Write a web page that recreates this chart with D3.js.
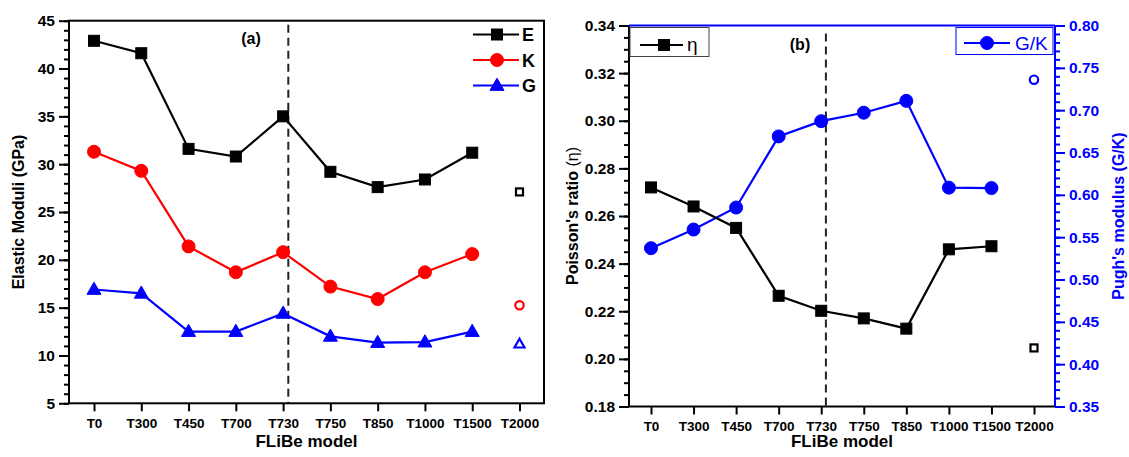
<!DOCTYPE html>
<html>
<head>
<meta charset="utf-8">
<title>FLiBe elastic moduli</title>
<script src="https://cdnjs.cloudflare.com/ajax/libs/d3/7.8.5/d3.min.js"></script>
<style>
  body { margin: 0; background: #fff; }
  svg { font-family: "Liberation Sans", Arial, sans-serif; }
</style>
</head>
<body>
<script>
// categories (T2000 is drawn as a separate open marker)
var models = ["T0", "T300", "T450", "T700", "T730", "T750", "T850", "T1000", "T1500", "T2000"];
var lineModels = models.slice(0, 9);

// panel (a) - GPa
var E = [42.9, 41.6, 31.6, 30.8, 35.0, 29.2, 27.6, 28.4, 31.2];
var K = [31.3, 29.3, 21.4, 18.7, 20.8, 17.2, 15.9, 18.7, 20.6];
var G = [16.9, 16.5, 12.5, 12.5, 14.4, 12.0, 11.35, 11.4, 12.5];
var E2000 = 27.1, K2000 = 15.25, G2000 = 11.2;

// panel (b)
var eta = [0.272, 0.264, 0.255, 0.2265, 0.2202, 0.217, 0.2127, 0.246, 0.2473];
var gk = [0.537, 0.559, 0.585, 0.669, 0.687, 0.697, 0.711, 0.6085, 0.608];
var eta2000 = 0.2046, gk2000 = 0.736;

var ticksA = [5, 10, 15, 20, 25, 30, 35, 40, 45];
var ticksEta = [0.18, 0.20, 0.22, 0.24, 0.26, 0.28, 0.30, 0.32, 0.34];
var ticksGK = [0.35, 0.40, 0.45, 0.50, 0.55, 0.60, 0.65, 0.70, 0.75, 0.80];

var svg = d3.select("body").append("svg").attr("width", 1129).attr("height", 457);

function minorVals(lo, hi, step) {
  var out = [];
  var n = Math.round((hi - lo) / step);
  for (var i = 0; i <= n; i++) out.push(lo + i * step);
  return out;
}

function drawYAxis(g, scale, side, x, majors, minors, color, fmt) {
  var ax = side == "left" ? d3.axisLeft(scale) : d3.axisRight(scale);
  var minor = g.append("g").attr("transform", "translate(" + x + ",0)")
    .call((side == "left" ? d3.axisLeft(scale) : d3.axisRight(scale))
      .tickValues(minors).tickSize(5).tickSizeOuter(0).tickFormat(""));
  var major = g.append("g").attr("transform", "translate(" + x + ",0)")
    .call(ax.tickValues(majors).tickSize(10).tickSizeOuter(0).tickFormat(fmt).tickPadding(4));
  [minor, major].forEach(function (s) {
    s.select(".domain").remove();
    s.selectAll("line").attr("stroke", color).attr("stroke-width", 2);
  });
  major.selectAll("text").attr("fill", color).attr("font-size", "15.5px").attr("font-weight", "bold");
}

function drawXAxis(g, scale, y) {
  var a = g.append("g").attr("transform", "translate(0," + y + ")")
    .call(d3.axisBottom(scale).tickSize(8).tickPadding(7));
  a.select(".domain").remove();
  a.selectAll("line").attr("stroke", "#000").attr("stroke-width", 2);
  a.selectAll("text").attr("fill", "#000").attr("font-size", "13.5px").attr("font-weight", "bold");
}

function square(g, x, y, s, open, color) {
  g.append("rect").attr("x", x - s / 2).attr("y", y - s / 2).attr("width", s).attr("height", s)
    .attr("fill", open ? "#fff" : color).attr("stroke", color).attr("stroke-width", open ? 2.2 : 1);
}
function circle(g, x, y, r, open, color) {
  g.append("circle").attr("cx", x).attr("cy", y).attr("r", r)
    .attr("fill", open ? "#fff" : color).attr("stroke", color).attr("stroke-width", open ? 2.2 : 1);
}
function triangle(g, x, y, s, open, color) {
  var h = s * 0.87;
  g.append("path")
    .attr("d", "M" + x + "," + (y - h * 0.6) + "L" + (x + s / 2) + "," + (y + h * 0.4) + "L" + (x - s / 2) + "," + (y + h * 0.4) + "Z")
    .attr("fill", open ? "#fff" : color).attr("stroke", color).attr("stroke-width", open ? 2.2 : 1);
}

function drawSeries(g, x, y, vals, color, marker, size) {
  var line = d3.line().x(function (d, i) { return x(lineModels[i]); }).y(function (d) { return y(d); });
  g.append("path").datum(vals).attr("d", line).attr("fill", "none").attr("stroke", color).attr("stroke-width", 2.2);
  vals.forEach(function (v, i) { marker(g, x(lineModels[i]), y(v), size, false, color); });
}

/* ---------------- panel (a) ---------------- */
var a = svg.append("g");
var ax0 = 69, ax1 = 544, ay0 = 20.7, ay1 = 403.3;
var xA = d3.scalePoint().domain(models).range([94, 519.5]);
var yA = d3.scaleLinear().domain([5, 45]).range([ay1, ay0]);

drawYAxis(a, yA, "left", ax0, ticksA, minorVals(5, 45, 1), "#000", d3.format("d"));
drawXAxis(a, xA, ay1);

var dashA = xA("T730") + 0.11 * xA.step();
a.append("line").attr("x1", dashA).attr("x2", dashA).attr("y1", ay0 + 4).attr("y2", ay1)
  .attr("stroke", "#222").attr("stroke-width", 2).attr("stroke-dasharray", "8,5");

drawSeries(a, xA, yA, E, "#000", square, 11);
drawSeries(a, xA, yA, K, "#ff0000", circle, 6.5);
drawSeries(a, xA, yA, G, "#0000ff", triangle, 14);
square(a, xA("T2000"), yA(E2000), 7, true, "#000");
circle(a, xA("T2000"), yA(K2000), 4.2, true, "#ff0000");
triangle(a, xA("T2000"), yA(G2000), 10, true, "#0000ff");

a.append("rect").attr("x", ax0).attr("y", ay0).attr("width", ax1 - ax0).attr("height", ay1 - ay0)
  .attr("fill", "none").attr("stroke", "#000").attr("stroke-width", 2);

// legend (a)
var legA = [["E", "#000", square, 11], ["K", "#ff0000", circle, 6.5], ["G", "#0000ff", triangle, 14]];
legA.forEach(function (d, i) {
  var ly = 34.5 + i * 25.5;
  a.append("line").attr("x1", 473).attr("x2", 519).attr("y1", ly).attr("y2", ly).attr("stroke", d[1]).attr("stroke-width", 2.2);
  d[2](a, 497, ly, d[3], false, d[1]);
  a.append("text").attr("x", 522).attr("y", ly + 6.5).text(d[0])
    .attr("font-size", "18px").attr("font-weight", "bold").attr("fill", "#000");
});

a.append("text").attr("x", 251).attr("y", 44).text("(a)").attr("text-anchor", "middle")
  .attr("font-size", "16px").attr("font-weight", "bold");
a.append("text").attr("x", (ax0 + ax1) / 2).attr("y", 447).text("FLiBe model").attr("text-anchor", "middle")
  .attr("font-size", "17px").attr("font-weight", "bold");
a.append("text").attr("transform", "translate(24," + (ay0 + ay1) / 2 + ") rotate(-90)")
  .text("Elastic Moduli (GPa)").attr("text-anchor", "middle").attr("font-size", "16px").attr("font-weight", "bold");

/* ---------------- panel (b) ---------------- */
var b = svg.append("g");
var bx0 = 629, bx1 = 1055, by0 = 25.5, by1 = 406.5;
var xB = d3.scalePoint().domain(models).range([651, 1034]);
var yEta = d3.scaleLinear().domain([0.18, 0.34]).range([by1, by0]);
var yGK = d3.scaleLinear().domain([0.35, 0.80]).range([by1, by0]);

drawYAxis(b, yEta, "left", bx0, ticksEta, minorVals(0.18, 0.34, 0.005), "#000", d3.format(".2f"));
drawYAxis(b, yGK, "right", bx1, ticksGK, minorVals(0.35, 0.80, 0.01), "#0000ff", d3.format(".2f"));
drawXAxis(b, xB, by1);

var dashB = xB("T730") + 0.11 * xB.step();
b.append("line").attr("x1", dashB).attr("x2", dashB).attr("y1", by0 + 8).attr("y2", by1)
  .attr("stroke", "#222").attr("stroke-width", 2).attr("stroke-dasharray", "8,5");

drawSeries(b, xB, yGK, gk, "#0000ff", circle, 6.5);
drawSeries(b, xB, yEta, eta, "#000", square, 11);
square(b, xB("T2000"), yEta(eta2000), 7, true, "#000");
circle(b, xB("T2000"), yGK(gk2000), 4.2, true, "#0000ff");

// frame: black left/bottom, blue top/right
b.append("line").attr("x1", bx0).attr("x2", bx0).attr("y1", by0).attr("y2", by1).attr("stroke", "#000").attr("stroke-width", 2);
b.append("line").attr("x1", bx0).attr("x2", bx1).attr("y1", by1).attr("y2", by1).attr("stroke", "#000").attr("stroke-width", 2);
b.append("line").attr("x1", bx0).attr("x2", bx1).attr("y1", by0).attr("y2", by0).attr("stroke", "#0000ff").attr("stroke-width", 2);
b.append("line").attr("x1", bx1).attr("x2", bx1).attr("y1", by0).attr("y2", by1).attr("stroke", "#0000ff").attr("stroke-width", 2);

// legends (b)
b.append("rect").attr("x", 630).attr("y", 27.5).attr("width", 79).attr("height", 29)
  .attr("fill", "#fff").attr("stroke", "#444").attr("stroke-width", 1);
b.append("line").attr("x1", 640).attr("x2", 683).attr("y1", 45).attr("y2", 45).attr("stroke", "#000").attr("stroke-width", 2.2);
square(b, 664, 45, 11, false, "#000");
b.append("text").attr("x", 687).attr("y", 51).text("η").attr("font-size", "19px");

b.append("rect").attr("x", 956).attr("y", 27.5).attr("width", 97).attr("height", 27)
  .attr("fill", "#fff").attr("stroke", "#0000ff").attr("stroke-width", 1);
b.append("line").attr("x1", 964).attr("x2", 1010).attr("y1", 43).attr("y2", 43).attr("stroke", "#0000ff").attr("stroke-width", 2.2);
circle(b, 987, 43, 6.5, false, "#0000ff");
b.append("text").attr("x", 1015).attr("y", 50).text("G/K").attr("font-size", "19px").attr("fill", "#0000ff");

b.append("text").attr("x", 800).attr("y", 50).text("(b)").attr("text-anchor", "middle")
  .attr("font-size", "16px").attr("font-weight", "bold");
b.append("text").attr("x", (bx0 + bx1) / 2).attr("y", 447).text("FLiBe model").attr("text-anchor", "middle")
  .attr("font-size", "17px").attr("font-weight", "bold");
var yt = b.append("text").attr("transform", "translate(578," + (by0 + by1) / 2 + ") rotate(-90)")
  .attr("text-anchor", "middle").attr("font-size", "16px").attr("font-weight", "bold");
yt.append("tspan").text("Poisson's ratio ");
yt.append("tspan").attr("font-weight", "normal").text("(η)");
b.append("text").attr("transform", "translate(1124," + (by0 + by1) / 2 + ") rotate(-90)")
  .text("Pugh's modulus (G/K)").attr("text-anchor", "middle").attr("font-size", "16px")
  .attr("font-weight", "bold").attr("fill", "#0000ff");
</script>
</body>
</html>
